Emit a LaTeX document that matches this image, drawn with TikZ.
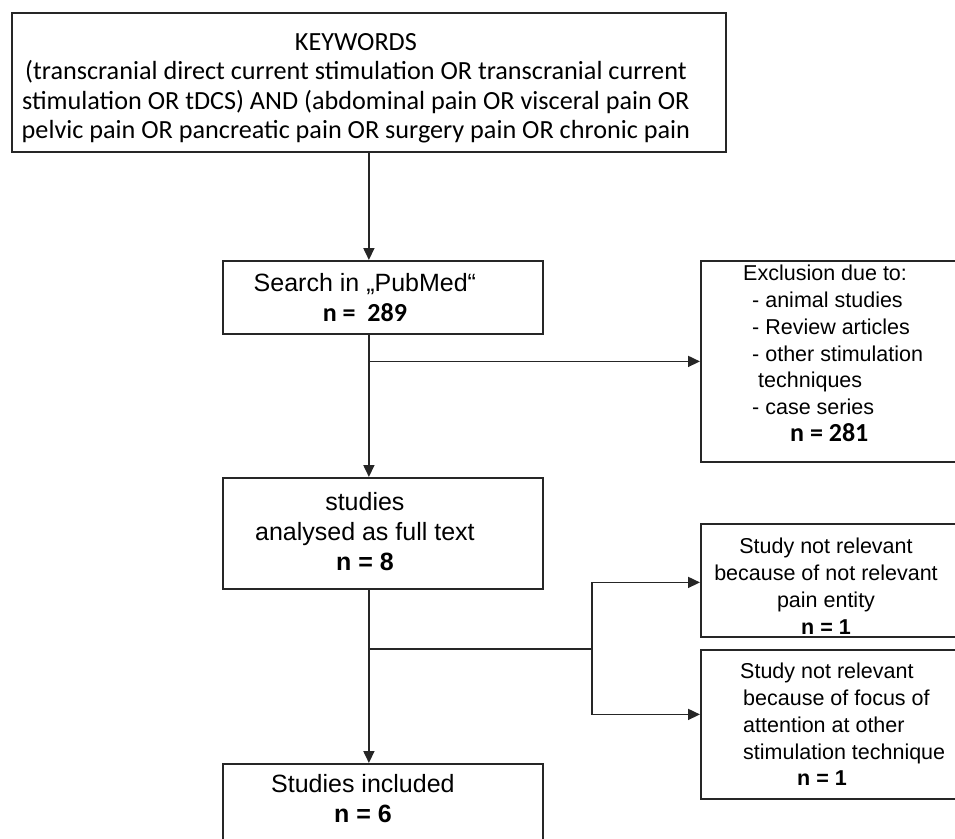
\documentclass[tikz,border=0pt]{standalone}
\usepackage{fontspec}
\setmainfont{Liberation Sans}
\newfontfamily\kwfont{Carlito}
\usetikzlibrary{arrows.meta, positioning, calc}

\begin{document}
\begin{tikzpicture}[x=1pt, y=-1pt,
    box/.style={rectangle, draw=black!85, line width=1.8pt, inner sep=0pt, anchor=north west},
    bigtxt/.style={align=center, inner sep=0pt, font=\fontsize{25}{30}\selectfont},
    smalltxt/.style={align=#1, inner sep=0pt, font=\fontsize{21.5}{26.8}\selectfont},
    arrow/.style={-{Triangle[length=12pt, width=11pt]}, line width=1.7pt, draw=black!85},
    link/.style={line width=1.7pt, draw=black!85}
]
    \clip (0,0) rectangle (955,838);

    % Boxes
    \node[box, minimum width=714pt, minimum height=139pt] (kw) at (11,12) {};
    \node[box, minimum width=320pt, minimum height=73pt] (search) at (222,260) {};
    \node[box, minimum width=320pt, minimum height=111pt] (studies) at (222,477) {};
    \node[box, minimum width=320pt, minimum height=100pt] (incl) at (222,763) {};
    \node[box, minimum width=290pt, minimum height=201pt] (excl) at (700,260) {};
    \node[box, minimum width=290pt, minimum height=113pt] (rel1) at (700,523) {};
    \node[box, minimum width=290pt, minimum height=149pt] (rel2) at (700,649) {};

    % Texts
    \node[bigtxt, font=\kwfont\fontsize{26.2}{29.5}\selectfont] (kwtxt) at ([xshift=-13pt, yshift=-6pt]kw.center)
        {KEYWORDS\\(transcranial direct current stimulation OR transcranial current\\stimulation OR tDCS) AND (abdominal pain OR visceral pain OR\\pelvic pain OR pancreatic pain OR surgery pain OR chronic pain};
    \node[bigtxt] (searchtxt) at ([xshift=-18pt]search.center)
        {Search in „PubMed“\\{\kwfont\bfseries\fontsize{26}{30}\selectfont n =\ \ 289}};
    \node[bigtxt] (studiestxt) at ([xshift=-18pt, yshift=2pt]studies.center)
        {studies\\analysed as full text\hspace*{36pt}\\\textbf{n = 8}};
    \node[bigtxt] (incltxt) at ([xshift=-20pt, yshift=15pt]incl.center)
        {Studies included\\\textbf{n = 6}};
    \node[smalltxt=left, anchor=west] (excltxt) at ([xshift=43pt, yshift=8pt]excl.west)
        {Exclusion due to:\\\hspace*{9pt}- animal studies\\\hspace*{9pt}- Review articles\\\hspace*{9pt}- other stimulation\\\hspace*{15pt}techniques\\\hspace*{9pt}- case series\\\hspace*{47pt}{\kwfont\bfseries\fontsize{26}{26.8}\selectfont n = 281}};
    \node[smalltxt=center] (rel1txt) at ([xshift=126pt, yshift=-6pt]rel1.west)
        {Study not relevant\\because of not relevant\\pain entity\\\textbf{n = 1}};
    \node[smalltxt=left, anchor=west] (rel2txt) at ([xshift=40pt]rel2.west)
        {Study not relevant\\\hspace*{3pt}because of focus of\\\hspace*{3pt}attention at other\\\hspace*{3pt}stimulation technique\\\hspace*{57pt}\textbf{n = 1}};

    % Arrows
    \coordinate (fork) at (592,649);
    \draw[arrow] (kw.south) -- (kw.south |- search.north);
    \draw[arrow] (kw.south |- search.south) -- (kw.south |- studies.north);
    \draw[arrow] (kw.south |- excl.west) -- (excl.west);
    \draw[arrow] (kw.south |- studies.south) -- (kw.south |- incl.north);
    \draw[link] (kw.south |- fork) -- (fork);
    \draw[arrow] (fork) |- ([yshift=-2pt]rel1.west);
    \draw[arrow] (fork) |- ([yshift=10pt]rel2.west);
\end{tikzpicture}
\end{document}
